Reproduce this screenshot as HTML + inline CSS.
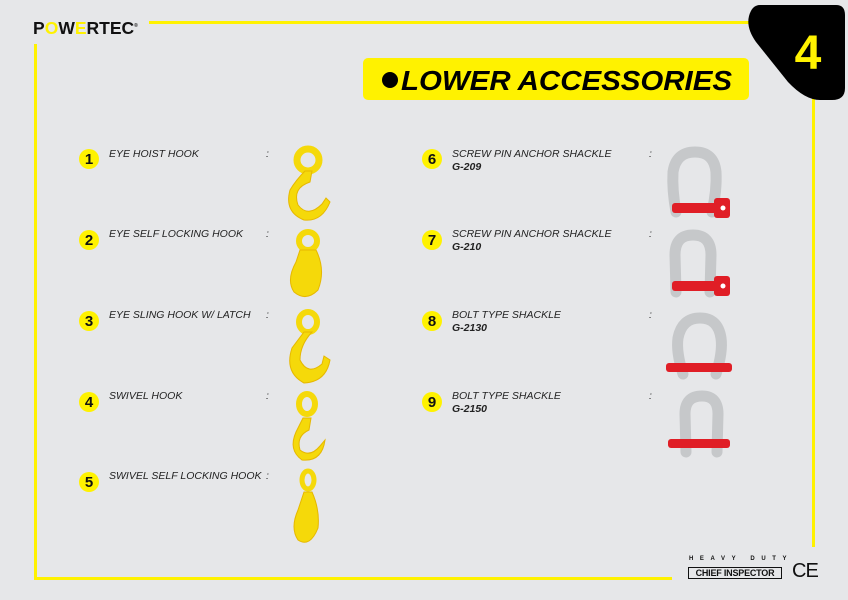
<!DOCTYPE html>
<html><head><meta charset="utf-8"><style>
body{margin:0;width:848px;height:600px;background:#e6e7e9;position:relative;overflow:hidden;font-family:"Liberation Sans",sans-serif}
.a{position:absolute}
.n{position:absolute;width:20px;height:20px;border-radius:50%;background:#fff200;font-weight:bold;font-size:15px;text-align:center;line-height:21px;color:#111}
.t{position:absolute;font-style:italic;font-size:10.5px;color:#222;white-space:nowrap;line-height:13px}
.t b{font-style:italic}
</style></head><body>
<svg class="a" style="left:0;top:0" width="848" height="600">
<rect x="149" y="21" width="605" height="3" fill="#fff200"/>
<rect x="34" y="44" width="3" height="536" fill="#fff200"/>
<rect x="34" y="577" width="638" height="3" fill="#fff200"/>
<rect x="812" y="95" width="3" height="452" fill="#fff200"/>
<path d="M760 5 L836 5 Q845 5 845 15 L845 88 Q845 100 832 100 L820 100 Q805 100 788 82 L756 42 Q746 28 749 16 Q752 5 760 5 Z" fill="#000"/>
<text x="808" y="69" font-family="Liberation Sans" font-weight="bold" font-size="48" fill="#fff200" text-anchor="middle">4</text>
<rect x="363" y="58" width="386" height="42" rx="5" fill="#fff200"/>
<circle cx="390" cy="80" r="8" fill="#000"/>
<text x="401" y="90" font-family="Liberation Sans" font-weight="bold" font-style="italic" font-size="28" fill="#000" textLength="331" lengthAdjust="spacingAndGlyphs">LOWER ACCESSORIES</text>
<g fill="#f5d90a" stroke="#e6b800" stroke-width="1">
<circle cx="308" cy="160" r="11" fill="none" stroke="#f5d90a" stroke-width="7"/>
<path d="M305 171 L312 171 L310 182 Q292 188 298 205 Q308 218 322 204 L326 198 L330 202 Q322 222 304 220 Q284 212 290 190 Q296 180 305 171Z"/>
<circle cx="308" cy="241" r="9" fill="none" stroke="#f5d90a" stroke-width="6"/>
<path d="M300 250 L316 250 Q326 270 318 290 Q306 302 294 292 Q286 280 296 262 L300 250Z"/>
<ellipse cx="308" cy="322" rx="9" ry="10" fill="none" stroke="#f5d90a" stroke-width="6"/>
<path d="M304 332 L312 332 Q300 345 300 360 Q308 376 322 364 L324 356 L330 360 Q326 382 304 383 Q284 372 292 348 Z"/>
<ellipse cx="307" cy="404" rx="8" ry="10" fill="none" stroke="#f5d90a" stroke-width="6"/>
<path d="M303 418 L311 418 L309 430 Q296 436 300 450 Q310 458 320 446 L325 440 Q322 462 302 460 Q288 450 296 432 Z"/>
<ellipse cx="308" cy="480" rx="6" ry="9" fill="none" stroke="#f5d90a" stroke-width="5"/>
<path d="M304 492 L312 492 Q320 510 318 528 Q310 548 298 540 Q290 528 298 510 Z"/>
</g>
<g fill="none" stroke="#c6c8ca" stroke-width="11" stroke-linecap="round">
<path d="M676 212 Q672 190 673 172 Q676 152 695 152 Q714 152 716 172 Q717 190 712 212"/>
<path d="M676 292 L675 255 Q675 235 693 235 Q711 235 711 255 L710 292"/>
<path d="M683 374 Q676 352 678 338 Q682 318 700 318 Q718 318 721 338 Q723 352 716 374"/>
<path d="M686 452 L685 414 Q685 396 702 396 Q718 396 718 414 L717 452"/>
</g>
<g fill="#e01e26">
<rect x="672" y="203" width="48" height="10" rx="3"/><rect x="714" y="198" width="16" height="20" rx="3"/>
<rect x="672" y="281" width="48" height="10" rx="3"/><rect x="714" y="276" width="16" height="20" rx="3"/>
<rect x="666" y="363" width="66" height="9" rx="3"/>
<rect x="668" y="439" width="62" height="9" rx="3"/>
</g>
<g fill="#fff"><circle cx="723" cy="208" r="2.5"/><circle cx="723" cy="286" r="2.5"/></g>
</svg>
<div class="a" style="left:33px;top:18px;font-weight:bold;font-size:17.5px;color:#111;letter-spacing:0px">P<span style="color:#fff200">O</span>W<span style="color:#fff200">E</span>RTEC<sup style="font-size:5px">®</sup></div>

<div class="n" style="left:79px;top:149px">1</div><div class="t" style="left:109px;top:148px">EYE HOIST HOOK</div><div class="t" style="left:266px;top:148px">:</div>
<div class="n" style="left:79px;top:230px">2</div><div class="t" style="left:109px;top:228px">EYE SELF LOCKING HOOK</div><div class="t" style="left:266px;top:228px">:</div>
<div class="n" style="left:79px;top:311px">3</div><div class="t" style="left:109px;top:309px">EYE SLING HOOK W/ LATCH</div><div class="t" style="left:266px;top:309px">:</div>
<div class="n" style="left:79px;top:392px">4</div><div class="t" style="left:109px;top:390px">SWIVEL HOOK</div><div class="t" style="left:266px;top:390px">:</div>
<div class="n" style="left:79px;top:472px">5</div><div class="t" style="left:109px;top:470px">SWIVEL SELF LOCKING HOOK</div><div class="t" style="left:266px;top:470px">:</div>

<div class="n" style="left:422px;top:149px">6</div><div class="t" style="left:452px;top:148px">SCREW PIN ANCHOR SHACKLE<br><b>G-209</b></div><div class="t" style="left:649px;top:148px">:</div>
<div class="n" style="left:422px;top:230px">7</div><div class="t" style="left:452px;top:228px">SCREW PIN ANCHOR SHACKLE<br><b>G-210</b></div><div class="t" style="left:649px;top:228px">:</div>
<div class="n" style="left:422px;top:311px">8</div><div class="t" style="left:452px;top:309px">BOLT TYPE SHACKLE<br><b>G-2130</b></div><div class="t" style="left:649px;top:309px">:</div>
<div class="n" style="left:422px;top:392px">9</div><div class="t" style="left:452px;top:390px">BOLT TYPE SHACKLE<br><b>G-2150</b></div><div class="t" style="left:649px;top:390px">:</div>

<div class="a" style="left:689px;top:556px;font-size:6px;font-weight:bold;letter-spacing:6.6px;color:#111">HEAVY DUTY</div>
<div class="a" style="left:688px;top:567px;width:92px;height:10px;border:1px solid #111;font-size:9px;font-weight:bold;line-height:10px;text-align:center;color:#111;letter-spacing:-0.2px">CHIEF INSPECTOR</div>
<div class="a" style="left:792px;top:560px;font-size:20px;color:#111;letter-spacing:-1px">CE</div>
</body></html>
